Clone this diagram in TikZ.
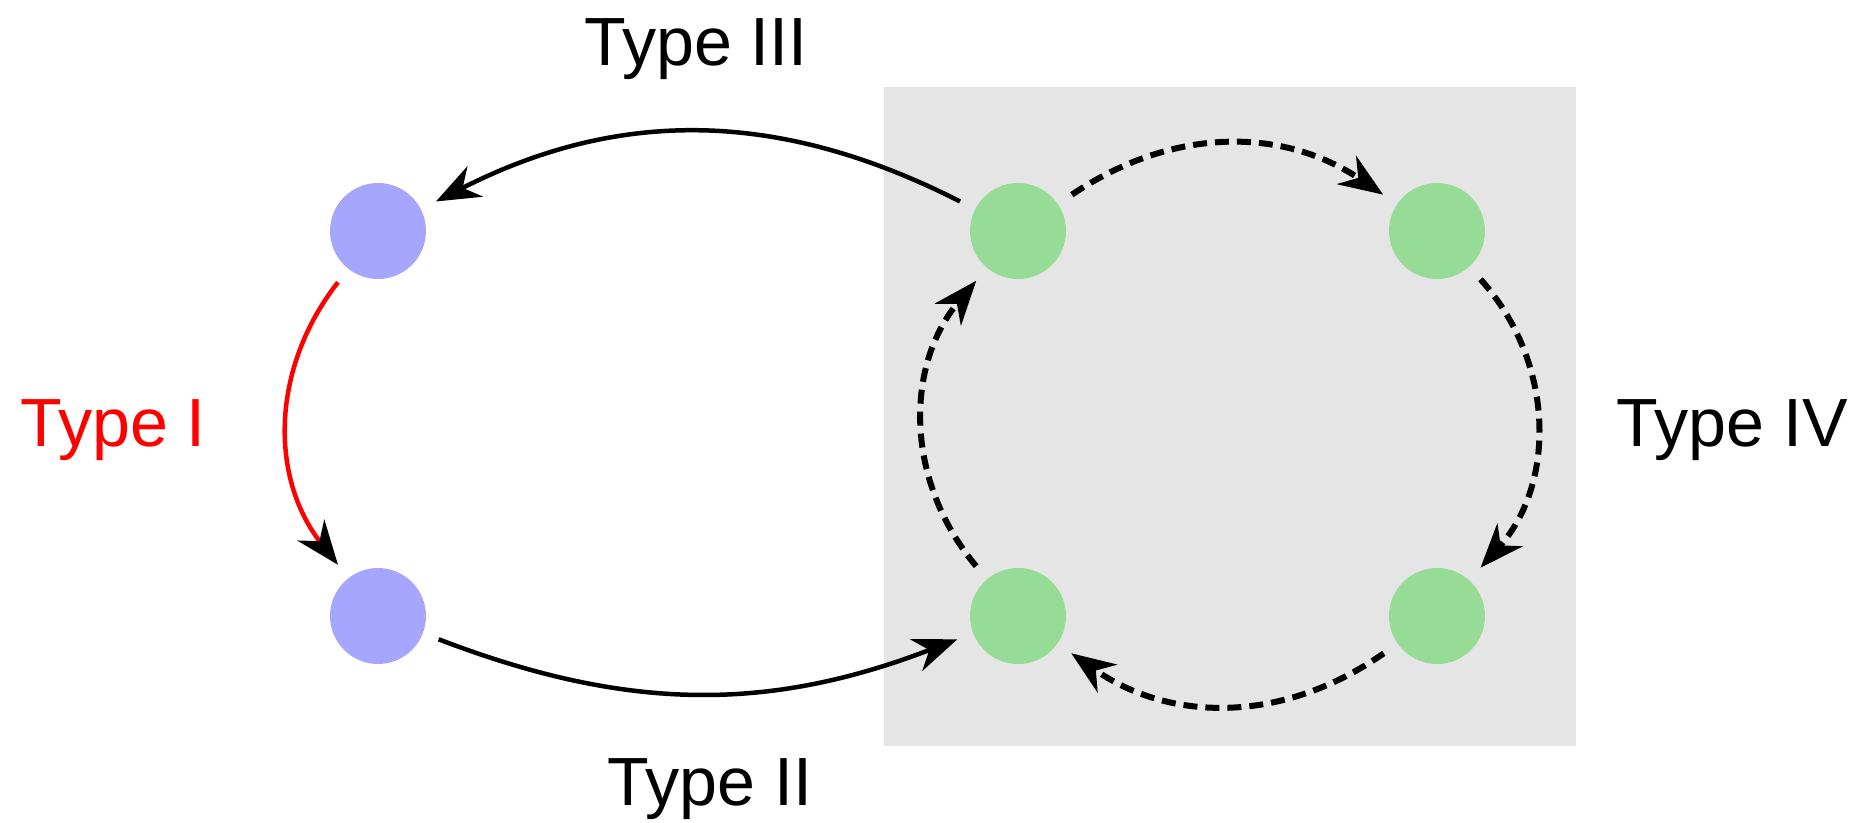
\documentclass[tikz,border=0pt]{standalone}
\usepackage{fontspec}
\setmainfont{Liberation Sans}
\usetikzlibrary{arrows.meta}
\definecolor{nodeblue}{RGB}{166,166,255}
\definecolor{nodegreen}{RGB}{150,219,150}
\definecolor{boxgray}{RGB}{229,229,229}
\begin{document}
\begin{tikzpicture}[
    state/.style={circle, fill=#1, minimum size=0.96cm, inner sep=0pt, outer sep=0.17cm},
    head/.style={-{Stealth[length=0.44cm, width=0.34cm, inset=0.14cm, #1]}},
    head/.default={},
    trans/.style={head, line width=0.045cm},
    cyc/.style={trans, line width=0.06cm, dash pattern=on 0.14cm off 0.08cm},
    lbl/.style={anchor=base, font=\fontsize{19.4}{23}\selectfont}
]
    \useasboundingbox (0,0) rectangle (18.65,8.22);
    \fill[boxgray] (8.84,0.76) rectangle (15.76,7.35);
    % states
    \node[state=nodeblue] (b1) at (3.78,5.91) {};
    \node[state=nodeblue] (b2) at (3.78,2.06) {};
    \node[state=nodegreen] (g1) at (10.18,5.91) {};
    \node[state=nodegreen] (g2) at (14.37,5.91) {};
    \node[state=nodegreen] (g3) at (14.37,2.06) {};
    \node[state=nodegreen] (g4) at (10.18,2.06) {};
    % transitions
    \draw[trans, red, head={color=black}] (b1) to[bend right=38] (b2);
    \draw[trans] (b2) to[bend right=21] (g4);
    \draw[trans] (g1) to[bend right=27] (b1);
    \draw[cyc] (g1) to[bend left=34] (g2);
    \draw[cyc] (g2) to[bend left=42] (g3);
    \draw[cyc] (g3) to[bend left=35] (g4);
    \draw[cyc] (g4) to[bend left=40] (g1);
    % labels
    \node[lbl, red] (t1) at (1.13,3.76) {Type I};
    \node[lbl] (t2) at (7.10,0.17) {Type II};
    \node[lbl] (t3) at (6.96,7.56) {Type III};
    \node[lbl] (t4) at (17.32,3.76) {Type IV};
\end{tikzpicture}
\end{document}
